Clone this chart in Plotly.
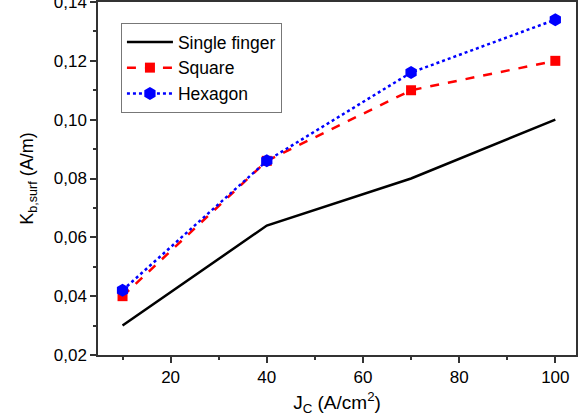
import plotly.graph_objects as go

jc = [10, 40, 70, 100]
single_finger = [0.030, 0.064, 0.080, 0.100]
square = [0.040, 0.086, 0.110, 0.120]
hexagon = [0.042, 0.086, 0.116, 0.134]

font = "Liberation Sans, Arial, sans-serif"

fig = go.Figure()
fig.add_trace(go.Scatter(x=jc, y=single_finger, name="Single finger", mode="lines",
                         line=dict(color="black", width=2.5)))
fig.add_trace(go.Scatter(x=jc, y=square, name="Square", mode="lines+markers",
                         line=dict(color="#ff0000", width=2.5, dash="dash"),
                         marker=dict(symbol="square", size=10, color="#ff0000")))
fig.add_trace(go.Scatter(x=jc, y=hexagon, name="Hexagon", mode="lines+markers",
                         line=dict(color="#0000ff", width=2.5, dash="dot"),
                         marker=dict(symbol="hexagon", size=13, color="#0000ff")))

axis_common = dict(showline=True, linecolor="#333333", linewidth=1.5, mirror=True,
                   ticks="outside", ticklen=6, tickwidth=1.5, tickcolor="#333333",
                   showgrid=False, zeroline=False, ticklabeloverflow="allow",
                   automargin=False,
                   tickfont=dict(family=font, size=17, color="black"))

fig.update_layout(
    width=582, height=416,
    margin=dict(l=98, r=6, t=2, b=61),
    plot_bgcolor="white", paper_bgcolor="white",
    separators=",.",
    showlegend=True,
    legend=dict(x=0.048, y=0.9405, xanchor="left", yanchor="top",
                bordercolor="#777777", borderwidth=1, bgcolor="white",
                font=dict(family=font, size=17.5, color="black"),
                tracegroupgap=0, itemwidth=46),
    xaxis=dict(range=[4.9, 104.3], tickvals=[20, 40, 60, 80, 100],
               minor=dict(ticks="outside", ticklen=3, tickwidth=1.5, tickcolor="#333333", dtick=10),
               title=dict(text="J<sub>C</sub> (A/cm<sup>2</sup>)", font=dict(family=font, size=19, color="black")),
               **axis_common),
    yaxis=dict(range=[0.02, 0.14], tickvals=[0.02, 0.04, 0.06, 0.08, 0.10, 0.12, 0.14], tickformat=".2f",
               minor=dict(ticks="outside", ticklen=3, tickwidth=1.5, tickcolor="#333333", dtick=0.01),
               title=dict(text="K<sub>b,surf</sub> (A/m)", font=dict(family=font, size=18, color="black")),
               **axis_common),
)

fig.write_html("out.html", config={"displayModeBar": False},
               post_script="document.body.style.margin='0';")
